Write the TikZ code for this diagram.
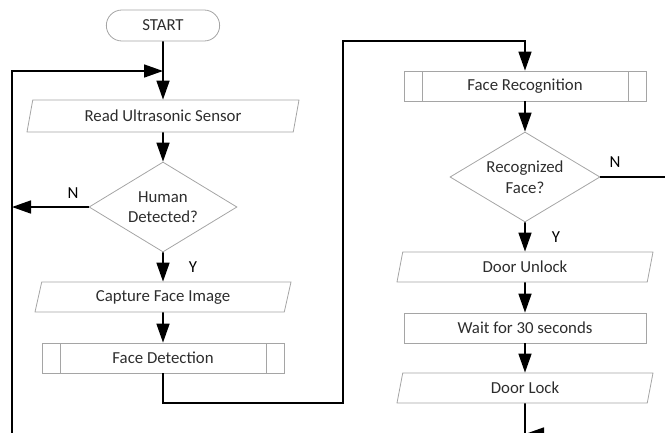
\documentclass[tikz,border=0pt]{standalone}
\usepackage{fontspec}
\setmainfont{Carlito}
\usetikzlibrary{arrows.meta,shapes.geometric,shapes.misc}
\definecolor{boxgray}{RGB}{165,165,165}
\definecolor{textgray}{RGB}{45,45,45}
\def\colL{163}
\def\colR{525}
\tikzset{
	every node/.style={
		font=\fontsize{16.8}{20.5}\selectfont,
		text=textgray
	},
	terminal/.style={
		shape=rounded rectangle,
		draw=boxgray,
		line width=0.8pt,
		minimum width=120pt,
		minimum height=31pt
	},
	io/.style={
		shape=trapezium,
		trapezium left angle=64,
		trapezium right angle=116,
		trapezium stretches body,
		draw=boxgray,
		line width=0.8pt,
		minimum width=256pt,
		minimum height=30pt,
		inner sep=0pt
	},
	process/.style={
		shape=rectangle,
		draw=boxgray,
		line width=0.8pt,
		minimum width=242pt,
		minimum height=30pt,
		path picture={
			\draw[boxgray, line width=0.8pt]
			([xshift=18pt]path picture bounding box.north west) -- ([xshift=18pt]path picture bounding box.south west)
			([xshift=-18pt]path picture bounding box.north east) -- ([xshift=-18pt]path picture bounding box.south east);
		}
	},
	action/.style={
		shape=rectangle,
		draw=boxgray,
		line width=0.8pt,
		minimum width=242pt,
		minimum height=30pt
	},
	decision/.style={
		shape=diamond,
		aspect=1.65,
		draw=boxgray,
		line width=0.8pt,
		minimum width=148pt,
		minimum height=90pt,
		inner sep=0pt,
		align=center
	},
	answer/.style={text=black}
}

\begin{document}
\begin{tikzpicture}
	[x=1pt, y=-1pt, flow/.style={-{Triangle[length=19pt,width=13pt]}, line width=1.6pt, black}]
	\useasboundingbox (0,0) rectangle (665,432);
	\clip (0,0) rectangle (665,432);
	
	\node[terminal] (start) at (\colL,25.5) {START};
	\node[io, minimum width=272pt, minimum height=32pt] (read) at (\colL,116) {Read Ultrasonic Sensor};
	\node[decision] (human) at (\colL,207) {Human\\Detected?};
	\node[io] (capture) at (\colL,297) {Capture Face Image};
	\node[process] (detect) at (\colL,358) {Face Detection};
	
	\node[process] (recog) at (\colR,86) {Face Recognition};
	\node[decision, minimum width=150pt] (face) at (\colR,177) {Recognized\\Face?};
	\node[io] (unlock) at (\colR,267) {Door Unlock};
	\node[action] (wait) at (\colR,328) {Wait for 30 seconds};
	\node[io] (lock) at (\colR,388) {Door Lock};
	
	\coordinate (join) at (\colL,71);
	\coordinate (loopTop) at (12,71);
	\coordinate (loopBot) at (12,450);
	\coordinate (noHuman) at (12,207);
	\coordinate (turnA) at (\colL,403);
	\coordinate (turnB) at (343,403);
	\coordinate (turnC) at (343,41);
	\coordinate (turnD) at (\colR,41);
	\coordinate (noFaceA) at (690,177);
	\coordinate (noFaceB) at (690,434);
	\coordinate (merge) at (\colR,434);
	\coordinate (lockBot) at (\colR,450);
	
	\draw[flow] (start) -- (read);
	\draw[flow] (read) -- (human);
	\draw[flow] (human.west) -- (noHuman);
	\draw[flow] (human.south) -- (capture);
	\draw[flow] (capture) -- (detect);
	\draw[flow] (detect.south) -- (turnA) -- (turnB) -- (turnC) -- (turnD) -- (recog);
	\draw[flow] (recog) -- (face);
	\draw[flow] (face.south) -- (unlock);
	\draw[flow] (unlock) -- (wait);
	\draw[flow] (wait) -- (lock);
	\draw[flow] (face.east) -- (noFaceA) -- (noFaceB) -- (merge);
	\draw[flow] (lock.south) -- (lockBot) -- (loopBot) -- (loopTop) -- (join);
	
	\node[answer] (nHuman) at (73,193) {N};
	\node[answer] (yHuman) at (193,267) {Y};
	\node[answer] (nFace) at (615,162) {N};
	\node[answer] (yFace) at (556,237) {Y};
\end{tikzpicture}
\end{document}
